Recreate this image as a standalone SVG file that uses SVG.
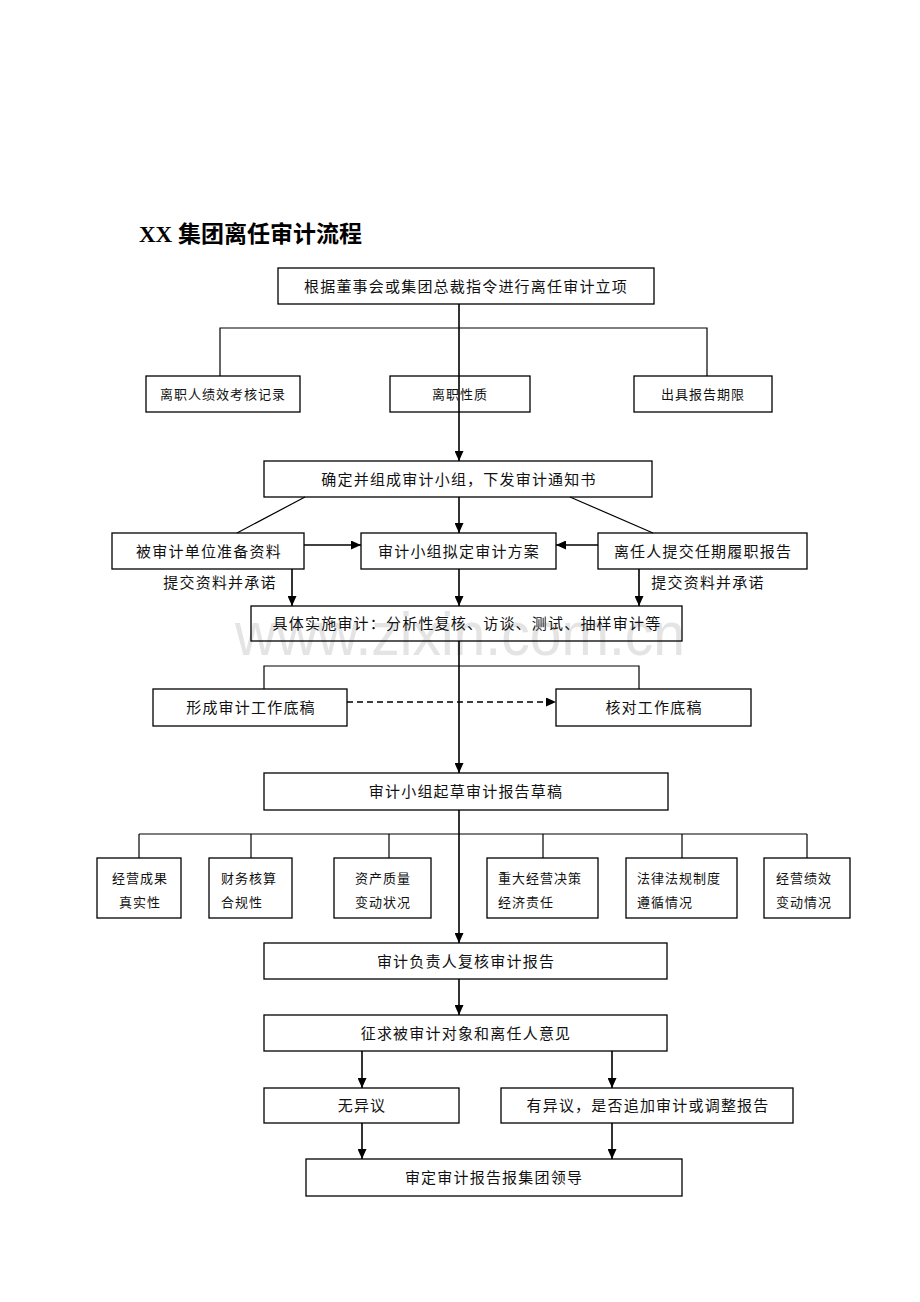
<svg xmlns="http://www.w3.org/2000/svg" width="920" height="1302" viewBox="0 0 920 1302">
<defs>
<marker id="ah" markerUnits="userSpaceOnUse" markerWidth="10" markerHeight="9" refX="10" refY="4.5" orient="auto">
<path d="M0,0 L10,4.5 L0,9 z" fill="#000"/>
</marker>
<style>
.box{fill:none;stroke:#000;stroke-width:1.3}
.t{font-family:"Liberation Serif","Noto Sans CJK SC",serif;font-size:15px;letter-spacing:1.2px;fill:#111;text-anchor:middle}
.s{font-family:"Liberation Serif","Noto Sans CJK SC",serif;font-size:13px;letter-spacing:1px;fill:#111}
.c{text-anchor:middle}
.ln{fill:none;stroke:#000;stroke-width:1.2}
.ar{fill:none;stroke:#000;stroke-width:1.6;marker-end:url(#ah)}
.wm{font-family:"Liberation Sans",Arial,sans-serif;font-size:62px;fill:#e4e4e4}
</style>
</defs>
<rect width="920" height="1302" fill="#fff"/>
<text class="wm" x="235" y="655" textLength="450" lengthAdjust="spacingAndGlyphs">www.zixin.com.cn</text>
<text x="139" y="242" style="font-family:'Liberation Serif','Noto Sans CJK SC',serif;font-size:23px;font-weight:bold;fill:#000">XX 集团离任审计流程</text>

<g id="connectors">
<line class="ar" x1="459" y1="304" x2="459" y2="461"/>
<polyline class="ln" points="220,376 220,328 707,328 707,376"/>
<line class="ln" x1="305" y1="497" x2="237" y2="533"/>
<line class="ln" x1="570" y1="497" x2="653" y2="533"/>
<line class="ar" x1="459" y1="497" x2="459" y2="533"/>
<line class="ar" x1="304" y1="545" x2="361" y2="545"/>
<line class="ar" x1="598" y1="545" x2="556" y2="545"/>
<line class="ar" x1="292" y1="569" x2="292" y2="606"/>
<line class="ar" x1="459" y1="569" x2="459" y2="606"/>
<line class="ar" x1="639" y1="569" x2="639" y2="606"/>
<line class="ar" x1="459" y1="641" x2="459" y2="773"/>
<polyline class="ln" points="264,689 264,666 639,666 639,689"/>
<line class="ar" x1="347" y1="702" x2="556" y2="702" stroke-dasharray="6 4"/>
<line class="ar" x1="459" y1="810" x2="459" y2="943"/>
<line class="ln" x1="139" y1="834" x2="807" y2="834"/>
<line class="ln" x1="139" y1="834" x2="139" y2="858"/>
<line class="ln" x1="251" y1="834" x2="251" y2="858"/>
<line class="ln" x1="389" y1="834" x2="389" y2="858"/>
<line class="ln" x1="543" y1="834" x2="543" y2="858"/>
<line class="ln" x1="682" y1="834" x2="682" y2="858"/>
<line class="ln" x1="807" y1="834" x2="807" y2="858"/>
<line class="ar" x1="459" y1="979" x2="459" y2="1015"/>
<line class="ar" x1="362" y1="1051" x2="362" y2="1088"/>
<line class="ar" x1="612" y1="1051" x2="612" y2="1088"/>
<line class="ar" x1="362" y1="1123" x2="362" y2="1159"/>
<line class="ar" x1="612" y1="1123" x2="612" y2="1159"/>
<text class="t" x="220" y="588">提交资料并承诺</text>
<text class="t" x="708" y="588">提交资料并承诺</text>
</g>

<g id="n1"><rect class="box" x="278" y="268" width="376" height="36"/><text class="t" x="466" y="291.5">根据董事会或集团总裁指令进行离任审计立项</text></g>
<g id="n2"><rect class="box" x="146" y="376" width="154" height="36"/><text class="s c" x="223" y="399">离职人绩效考核记录</text></g>
<g id="n3"><rect class="box" x="390" y="376" width="140" height="36"/><text class="s c" x="460" y="399">离职性质</text></g>
<g id="n4"><rect class="box" x="634" y="376" width="138" height="36"/><text class="s c" x="703" y="399">出具报告期限</text></g>
<g id="n5"><rect class="box" x="264" y="461" width="388" height="36"/><text class="t" x="459" y="484.5">确定并组成审计小组，下发审计通知书</text></g>
<g id="n6"><rect class="box" x="112" y="533" width="192" height="36"/><text class="t" x="209" y="556.5">被审计单位准备资料</text></g>
<g id="n7"><rect class="box" x="361" y="533" width="195" height="36"/><text class="t" x="459" y="556.5">审计小组拟定审计方案</text></g>
<g id="n8"><rect class="box" x="598" y="533" width="209" height="36"/><text class="t" x="703" y="556.5">离任人提交任期履职报告</text></g>
<g id="n9"><rect class="box" x="251" y="606" width="431" height="35"/><text class="t" x="467" y="629">具体实施审计：分析性复核、访谈、测试、抽样审计等</text></g>
<g id="n10"><rect class="box" x="153" y="689" width="194" height="37"/><text class="t" x="251" y="713">形成审计工作底稿</text></g>
<g id="n11"><rect class="box" x="556" y="689" width="195" height="37"/><text class="t" x="654" y="713">核对工作底稿</text></g>
<g id="n12"><rect class="box" x="264" y="773" width="404" height="37"/><text class="t" x="466" y="797">审计小组起草审计报告草稿</text></g>
<g id="s1"><rect class="box" x="97" y="858" width="84" height="60"/><text class="s c" x="140" y="883">经营成果</text><text class="s c" x="140" y="907">真实性</text></g>
<g id="s2"><rect class="box" x="209" y="858" width="83" height="60"/><text class="s" x="221" y="883">财务核算</text><text class="s" x="221" y="907">合规性</text></g>
<g id="s3"><rect class="box" x="334" y="858" width="97" height="60"/><text class="s c" x="383" y="883">资产质量</text><text class="s c" x="383" y="907">变动状况</text></g>
<g id="s4"><rect class="box" x="487" y="858" width="111" height="60"/><text class="s" x="498" y="883">重大经营决策</text><text class="s" x="498" y="907">经济责任</text></g>
<g id="s5"><rect class="box" x="626" y="858" width="111" height="60"/><text class="s" x="637" y="883">法律法规制度</text><text class="s" x="637" y="907">遵循情况</text></g>
<g id="s6"><rect class="box" x="764" y="858" width="86" height="60"/><text class="s" x="776" y="883">经营绩效</text><text class="s" x="776" y="907">变动情况</text></g>
<g id="n13"><rect class="box" x="264" y="943" width="403" height="36"/><text class="t" x="466" y="966.5">审计负责人复核审计报告</text></g>
<g id="n14"><rect class="box" x="264" y="1015" width="403" height="36"/><text class="t" x="466" y="1038.5">征求被审计对象和离任人意见</text></g>
<g id="n15"><rect class="box" x="264" y="1088" width="195" height="35"/><text class="t" x="362" y="1111">无异议</text></g>
<g id="n16"><rect class="box" x="501" y="1088" width="292" height="35"/><text class="t" x="648" y="1111">有异议，是否追加审计或调整报告</text></g>
<g id="n17"><rect class="box" x="306" y="1159" width="376" height="37"/><text class="t" x="494" y="1183">审定审计报告报集团领导</text></g>
</svg>
